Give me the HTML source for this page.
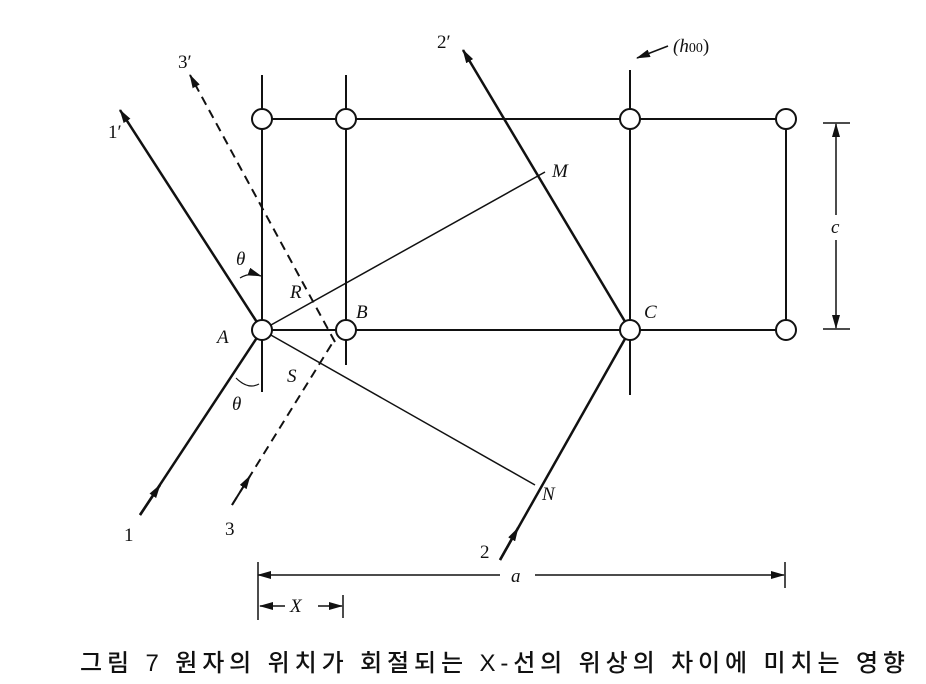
<!DOCTYPE html>
<html><head><meta charset="utf-8"><style>
body{margin:0;background:#fff;width:926px;height:684px;overflow:hidden}
svg{display:block}
.t{font-family:"Liberation Serif",serif;font-style:italic;font-size:19px;fill:#111}
.n{font-family:"Liberation Serif",serif;font-size:19px;fill:#111}
</style></head><body>
<svg width="926" height="684" viewBox="0 0 926 684" xmlns="http://www.w3.org/2000/svg">
<defs><marker id="ar" markerWidth="14" markerHeight="8" refX="13" refY="4" orient="auto-start-reverse" markerUnits="userSpaceOnUse"><path d="M0,0 L14,4 L0,8 Z" fill="#111"/></marker></defs>
<g stroke="#111" stroke-width="2" fill="none">
<line x1="262" y1="75" x2="262" y2="392"/>
<line x1="346" y1="75" x2="346" y2="365"/>
<line x1="630" y1="70" x2="630" y2="395"/>
<line x1="786" y1="119" x2="786" y2="330"/>
<line x1="262" y1="119" x2="786" y2="119"/>
<line x1="262" y1="330" x2="786" y2="330"/>
<line x1="262" y1="330" x2="545" y2="172" stroke-width="1.5"/>
<line x1="262" y1="330" x2="535" y2="485" stroke-width="1.5"/>
<line x1="140" y1="515" x2="262" y2="330" stroke-width="2.5"/>
<line x1="140" y1="515" x2="160" y2="485" stroke-width="2.5" marker-end="url(#ar)"/>
<line x1="262" y1="330" x2="120" y2="110" stroke-width="2.5" marker-end="url(#ar)"/>
<line x1="630" y1="330" x2="463" y2="50" stroke-width="2.5" marker-end="url(#ar)"/>
<line x1="500" y1="560" x2="630" y2="330" stroke-width="2.5"/>
<line x1="500" y1="560" x2="518" y2="528" stroke-width="2.5" marker-end="url(#ar)"/>
<line x1="335" y1="342" x2="190" y2="75" stroke-dasharray="9,6" marker-end="url(#ar)"/>
<line x1="232" y1="505" x2="333" y2="342" stroke-dasharray="9,6"/>
<line x1="232" y1="505" x2="250" y2="476" marker-end="url(#ar)"/>
<line x1="836" y1="124" x2="836" y2="215" marker-start="url(#ar)" stroke-width="1.5"/>
<line x1="836" y1="240" x2="836" y2="328" marker-end="url(#ar)" stroke-width="1.5"/>
<line x1="823" y1="123" x2="850" y2="123" stroke-width="1.5"/>
<line x1="823" y1="329" x2="850" y2="329" stroke-width="1.5"/>
<line x1="258" y1="575" x2="500" y2="575" stroke-width="1.5" marker-start="url(#ar)"/>
<line x1="535" y1="575" x2="784" y2="575" stroke-width="1.5" marker-end="url(#ar)"/>
<line x1="258" y1="562" x2="258" y2="620" stroke-width="1.5"/>
<line x1="785" y1="562" x2="785" y2="588" stroke-width="1.5"/>
<line x1="343" y1="595" x2="343" y2="618" stroke-width="1.5"/>
<line x1="260" y1="606" x2="285" y2="606" stroke-width="1.5" marker-start="url(#ar)"/>
<line x1="318" y1="606" x2="342" y2="606" stroke-width="1.5" marker-end="url(#ar)"/>
<line x1="668" y1="46" x2="637" y2="58" stroke-width="1.5" marker-end="url(#ar)"/>
<path d="M240,278 Q250,272 261,276" stroke-width="1.2" marker-end="url(#ar)"/>
<path d="M236,378 Q248,390 259,384" stroke-width="1.2"/>
</g>
<g fill="#fff" stroke="#111" stroke-width="2">
<circle cx="262" cy="119" r="10"/><circle cx="346" cy="119" r="10"/><circle cx="630" cy="119" r="10"/><circle cx="786" cy="119" r="10"/>
<circle cx="262" cy="330" r="10"/><circle cx="346" cy="330" r="10"/><circle cx="630" cy="330" r="10"/><circle cx="786" cy="330" r="10"/>
</g>
<text class="n" x="108" y="138">1′</text>
<text class="n" x="178" y="68">3′</text>
<text class="n" x="437" y="48">2′</text>
<text class="t" x="673" y="52">(<tspan>h</tspan><tspan font-style="normal" font-size="14">00</tspan><tspan font-style="normal">)</tspan></text>
<text class="t" x="552" y="177">M</text>
<text class="t" x="831" y="233">c</text>
<text class="t" x="236" y="265">θ</text>
<text class="t" x="290" y="298">R</text>
<text class="t" x="356" y="318">B</text>
<text class="t" x="644" y="318">C</text>
<text class="t" x="217" y="343">A</text>
<text class="t" x="287" y="382">S</text>
<text class="t" x="232" y="410">θ</text>
<text class="t" x="542" y="500">N</text>
<text class="n" x="124" y="541">1</text>
<text class="n" x="225" y="535">3</text>
<text class="n" x="480" y="558">2</text>
<text class="t" x="511" y="582">a</text>
<text class="t" x="290" y="612">X</text>
<text x="80" y="671" textLength="825" lengthAdjust="spacing" style="font-family:'Liberation Sans','Noto Sans CJK KR',sans-serif;font-size:24px;font-weight:500;fill:#111">그림 7  원자의 위치가 회절되는 X-선의 위상의 차이에 미치는 영향</text>
</svg>
</body></html>
